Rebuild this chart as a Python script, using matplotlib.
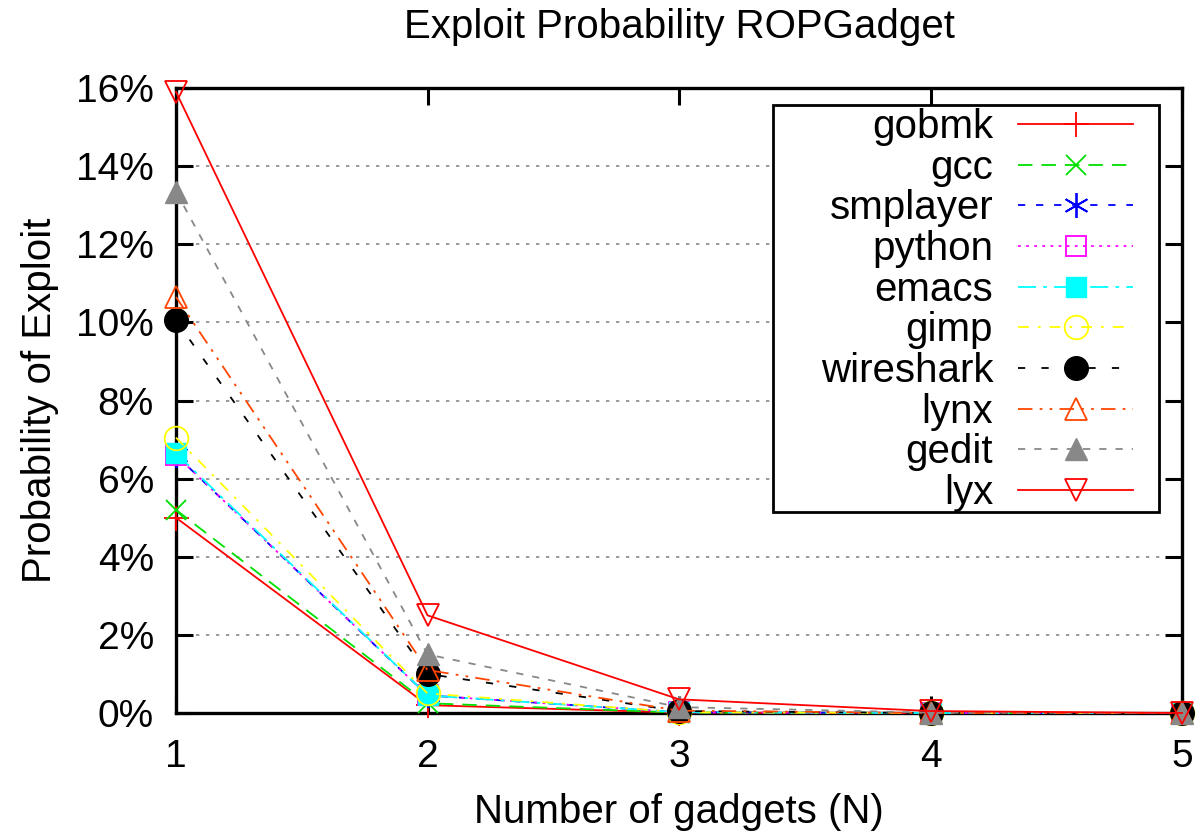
import matplotlib
matplotlib.use("Agg")
import matplotlib.pyplot as plt
from matplotlib.patches import Rectangle
from matplotlib.ticker import FuncFormatter, MultipleLocator

plt.rcParams['font.family'] = ['Liberation Sans', 'DejaVu Sans']

N = [1, 2, 3, 4, 5]
series_names = ["gobmk", "gcc", "smplayer", "python", "emacs", "gimp",
                "wireshark", "lynx", "gedit", "lyx"]
gobmk = [5.0, 0.20, 0.01, 0.0, 0.0]
gcc = [5.2, 0.25, 0.01, 0.0, 0.0]
smplayer = [6.6, 0.45, 0.02, 0.0, 0.0]
python = [6.6, 0.45, 0.02, 0.0, 0.0]
emacs = [6.65, 0.45, 0.02, 0.0, 0.0]
gimp = [7.05, 0.50, 0.02, 0.0, 0.0]
wireshark = [10.05, 1.0, 0.05, 0.0, 0.0]
lynx = [10.65, 1.1, 0.06, 0.0, 0.0]
gedit = [13.35, 1.5, 0.15, 0.01, 0.0]
lyx = [15.9, 2.5, 0.35, 0.05, 0.0]
values = [gobmk, gcc, smplayer, python, emacs, gimp, wireshark, lynx, gedit, lyx]

styles = [
    dict(color="#ff0000", ls="-", marker="+", mfc="none", ms=18, mew=1.3),
    dict(color="#00e000", ls=(0, (8, 5)), marker="x", mfc="none", ms=15, mew=1.3),
    dict(color="#0000ff", ls=(0, (4, 6)), marker=(6, 2, 0), mfc="none", ms=18, mew=1.3),
    dict(color="#ff00ff", ls=(0, (1.5, 3)), marker="s", mfc="none", ms=15, mew=1.3),
    dict(color="#00ffff", ls=(0, (10, 4, 2, 4)), marker="s", mfc="#00ffff", ms=15, mew=1.0),
    dict(color="#ffff00", ls=(0, (6, 5, 1.5, 5)), marker="o", mfc="none", ms=17, mew=1.3),
    dict(color="#000000", ls=(0, (4, 9)), marker="o", mfc="#000000", ms=17, mew=1.0),
    dict(color="#ff4500", ls=(0, (8, 4, 1.5, 4, 1.5, 4)), marker="^", mfc="none", ms=16, mew=1.3),
    dict(color="#888888", ls=(0, (4, 5)), marker="^", mfc="#888888", ms=16, mew=1.0),
    dict(color="#ff0000", ls="-", marker="v", mfc="none", ms=16, mew=1.3),
]

W, H = 1201, 838
L, R, T, B = 176, 1182, 88, 713
fig = plt.figure(figsize=(W / 100, H / 100), dpi=100)
ax = fig.add_axes([L / W, 1 - B / H, (R - L) / W, (B - T) / H])

def ax_xy(px, py):
    return (px - L) / (R - L), (B - py) / (B - T)

for name, vals, st in zip(series_names, values, styles):
    ax.plot(N, vals, label=name, lw=1.3, clip_on=False, zorder=3,
            color=st["color"], linestyle=st["ls"], marker=st["marker"],
            markerfacecolor=st["mfc"], markeredgecolor=st["color"],
            markersize=st["ms"], markeredgewidth=st["mew"])

ax.set_xlim(1, 5)
ax.set_ylim(0, 16)
ax.xaxis.set_major_locator(MultipleLocator(1))
ax.yaxis.set_major_locator(MultipleLocator(2))
ax.yaxis.set_major_formatter(FuncFormatter(lambda v, p: f"{int(round(v))}%"))

fs = 29
ax.tick_params(direction="in", length=12, width=2.2, top=True, right=True,
               labelsize=28)
ax.tick_params(axis="x", pad=19)
ax.tick_params(axis="y", pad=16)
for s in ax.spines.values():
    s.set_linewidth(2.4)

ax.yaxis.grid(True, color="#888888", linestyle=(0, (2, 4)), linewidth=1.2)
ax.set_axisbelow(True)

ax.set_title("Exploit Probability ROPGadget", fontsize=fs, pad=36)
ax.set_xlabel("Number of gadgets (N)", fontsize=fs, va="baseline")
ax.xaxis.set_label_coords(0.5, ax_xy(0, 823)[1])
ax.set_ylabel("Probability of Exploit", fontsize=fs, labelpad=12)

# legend frame
x0, y0 = ax_xy(773, 512)
x1, y1 = ax_xy(1159, 105)
ax.add_patch(Rectangle((x0, y0), x1 - x0, y1 - y0, transform=ax.transAxes,
                       facecolor="white", edgecolor="black", lw=2.0,
                       zorder=4, clip_on=False))

ax_anchor = ax_xy(1133, 108)
leg = ax.legend(loc="upper right", bbox_to_anchor=ax_anchor,
                borderaxespad=0, markerfirst=False, fontsize=fs,
                frameon=False, handlelength=2.85, labelspacing=0.066,
                borderpad=0, handletextpad=0.62)
leg.set_zorder(5)

fig.savefig("out.png", dpi=100)
